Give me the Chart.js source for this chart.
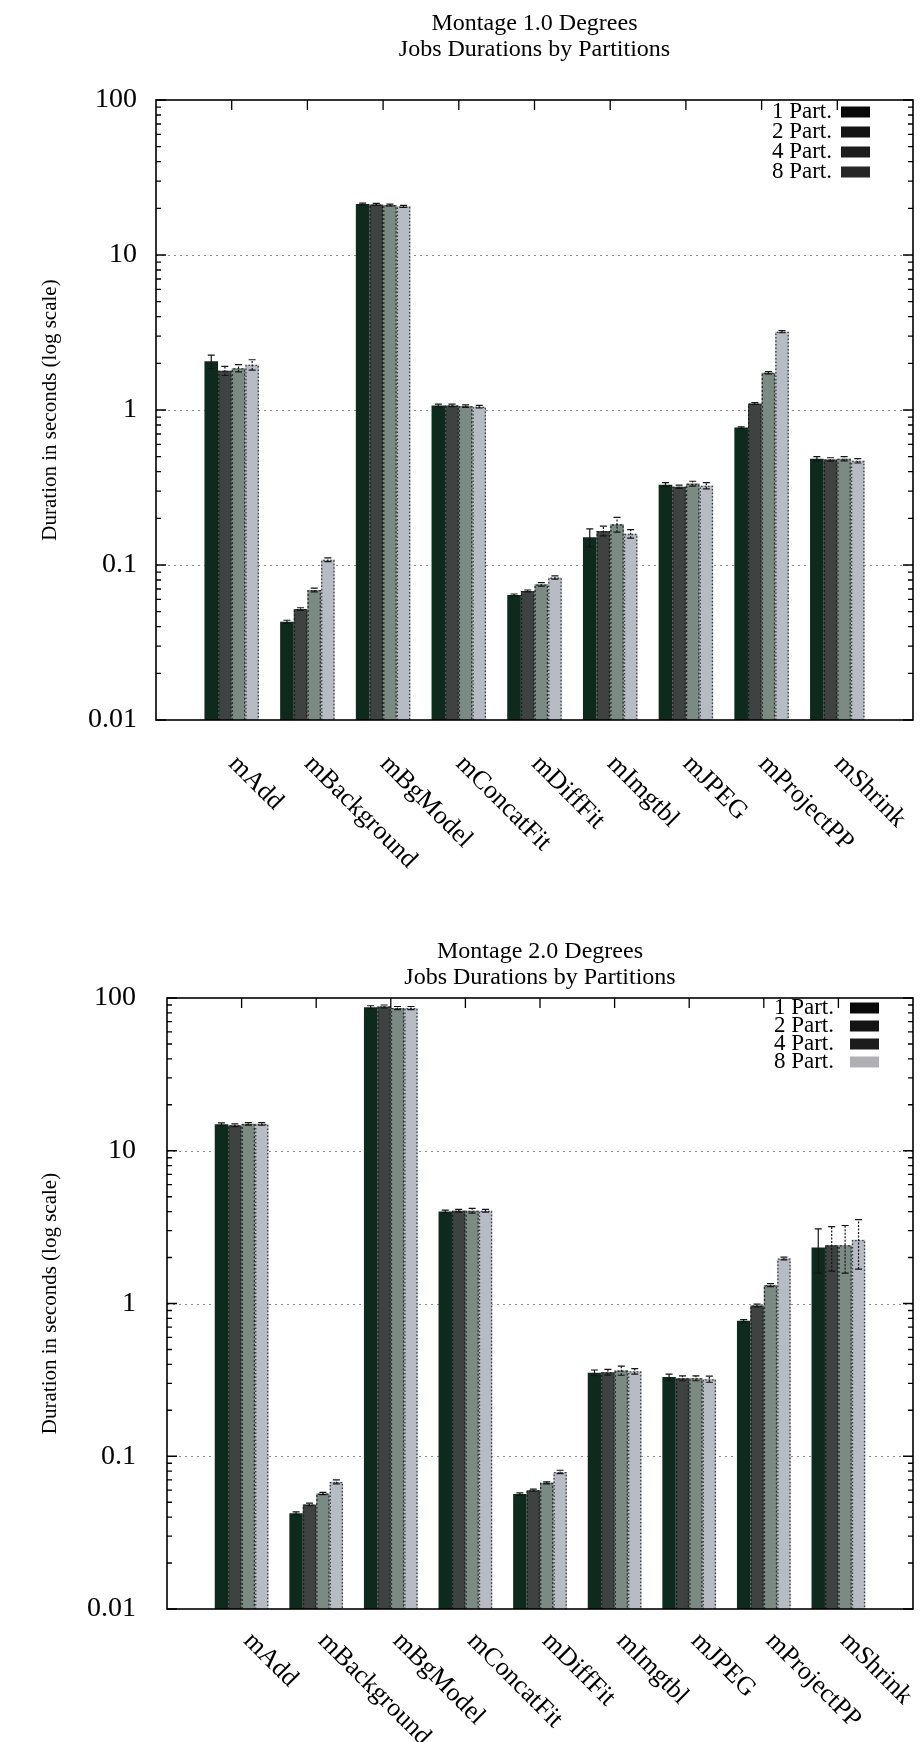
<!DOCTYPE html>
<html>
<head>
<meta charset="utf-8">
<script src="https://cdn.jsdelivr.net/npm/chart.js@4.4.1/dist/chart.umd.min.js"></script>
<style>
  html, body { margin: 0; padding: 0; background: #fff; }
  #wrap { position: relative; width: 920px; height: 1742px; background: #fff; }
  canvas { position: absolute; left: 0; }
</style>
</head>
<body>
<div id="wrap">
  <canvas id="deg1" width="920" height="871" style="top:0px"></canvas>
  <canvas id="deg2" width="920" height="871" style="top:871px"></canvas>
</div>
<script>
// Montage job types on the x axis
const categories = ['mAdd', 'mBackground', 'mBgModel', 'mConcatFit', 'mDiffFit', 'mImgtbl', 'mJPEG', 'mProjectPP', 'mShrink'];
const seriesNames = ['1 Part.', '2 Part.', '4 Part.', '8 Part.'];
const yTickValues = [0.01, 0.1, 1, 10, 100];
const yTickLabels = ['0.01', '0.1', '1', '10', '100'];
const chart1Title = ['Montage 1.0 Degrees', 'Jobs Durations by Partitions'];
const chart2Title = ['Montage 2.0 Degrees', 'Jobs Durations by Partitions'];
const yAxisTitle = 'Duration in seconds (log scale)';

// Montage 1.0 degrees: mean job duration (s) per partition count
const m1Part1 = [2.06, 0.043, 21.3, 1.07, 0.064, 0.151, 0.330, 0.77, 0.485];
const m1Part2 = [1.79, 0.052, 21.2, 1.07, 0.068, 0.166, 0.320, 1.10, 0.480];
const m1Part4 = [1.86, 0.069, 21.0, 1.06, 0.075, 0.183, 0.335, 1.74, 0.485];
const m1Part8 = [1.96, 0.108, 20.6, 1.05, 0.083, 0.159, 0.325, 3.20, 0.470];
// Montage 1.0 degrees: error bar half-widths
const m1Err1 = [0.20, 0.001, 0.3, 0.02, 0.001, 0.020, 0.010, 0.010, 0.015];
const m1Err2 = [0.12, 0.001, 0.3, 0.02, 0.001, 0.012, 0.008, 0.015, 0.012];
const m1Err4 = [0.10, 0.002, 0.3, 0.02, 0.002, 0.020, 0.012, 0.030, 0.015];
const m1Err8 = [0.15, 0.003, 0.3, 0.02, 0.002, 0.010, 0.015, 0.050, 0.015];

// Montage 2.0 degrees: mean job duration (s) per partition count
const m2Part1 = [14.9, 0.0423, 87, 4.00, 0.0565, 0.352, 0.330, 0.77, 2.33];
const m2Part2 = [14.7, 0.0484, 88, 4.05, 0.0600, 0.355, 0.324, 0.97, 2.41];
const m2Part4 = [15.0, 0.0570, 86, 4.05, 0.0670, 0.364, 0.324, 1.32, 2.41];
const m2Part8 = [15.0, 0.0680, 86, 4.05, 0.0790, 0.360, 0.320, 1.97, 2.61];
// Montage 2.0 degrees: error bar half-widths
const m2Err1 = [0.3, 0.001, 2, 0.08, 0.001, 0.015, 0.015, 0.015, 0.75];
const m2Err2 = [0.3, 0.001, 2, 0.08, 0.001, 0.015, 0.012, 0.020, 0.78];
const m2Err4 = [0.3, 0.001, 2, 0.15, 0.001, 0.025, 0.012, 0.030, 0.83];
const m2Err8 = [0.3, 0.002, 2, 0.08, 0.002, 0.015, 0.015, 0.040, 0.93];

// bar styling per partition count
const barFills = ['#0e2a1d', '#3e4240', '#7b8a82', '#b7bbc4'];
const barEdgeDash = [null, [2, 2], [2, 2], [1.5, 2]];
const barEdgeColors = ['#0e2a1d', '#1c1f1e', '#2a302c', '#3a3d45'];

const SERIF = "'Liberation Serif', 'Times New Roman', serif";

// the category axis runs from an empty slot before the first job to one after the last
function padEnds(arr) { return [null, ...arr, null]; }

const gnuplotFrame = {
  id: 'gnuplotFrame',
  beforeDatasetsDraw(chart, args, o) {
    const { ctx, chartArea: a, scales: { y } } = chart;
    ctx.save();
    ctx.strokeStyle = '#8c8c8c';
    ctx.lineWidth = 1;
    ctx.setLineDash([2, 4]);
    yTickValues.forEach(v => {
      if (v <= y.min || v >= y.max) return;
      const py = Math.round(y.getPixelForValue(v)) + 0.5;
      ctx.beginPath();
      ctx.moveTo(a.left, py);
      ctx.lineTo(a.right, py);
      ctx.stroke();
    });
    ctx.restore();
  },
  afterDatasetsDraw(chart, args, o) {
    const { ctx, chartArea: a, scales: { x, y } } = chart;

    // dotted bar outlines and error bars
    chart.data.datasets.forEach((ds, di) => {
      const meta = chart.getDatasetMeta(di);
      meta.data.forEach((bar, j) => {
        const v = ds.data[j];
        if (v == null) return;
        const half = bar.width / 2;
        if (ds.edgeDash) {
          ctx.save();
          ctx.strokeStyle = ds.edgeColor;
          ctx.lineWidth = 1.3;
          ctx.setLineDash(ds.edgeDash);
          ctx.beginPath();
          ctx.moveTo(bar.x - half + 0.7, bar.base);
          ctx.lineTo(bar.x - half + 0.7, bar.y + 0.7);
          ctx.lineTo(bar.x + half - 0.7, bar.y + 0.7);
          ctx.lineTo(bar.x + half - 0.7, bar.base);
          ctx.stroke();
          ctx.restore();
        }
        const e = ds.err[j];
        if (e) {
          const yHi = y.getPixelForValue(v + e);
          const yLo = y.getPixelForValue(Math.max(v - e, 0.0101));
          ctx.save();
          ctx.strokeStyle = '#151515';
          ctx.lineWidth = 1.2;
          if (ds.edgeDash) ctx.setLineDash([2, 1.5]);
          ctx.beginPath();
          ctx.moveTo(bar.x, yLo);
          ctx.lineTo(bar.x, yHi);
          ctx.stroke();
          ctx.setLineDash([]);
          ctx.beginPath();
          ctx.moveTo(bar.x - 3.5, yHi); ctx.lineTo(bar.x + 3.5, yHi);
          ctx.moveTo(bar.x - 3.5, yLo); ctx.lineTo(bar.x + 3.5, yLo);
          ctx.stroke();
          ctx.restore();
        }
      });
    });

    ctx.save();
    // border
    ctx.strokeStyle = '#000';
    ctx.lineWidth = 1.6;
    ctx.setLineDash([]);
    ctx.strokeRect(a.left, a.top, a.width, a.height);

    // log tics on both vertical borders
    ctx.lineWidth = 1.3;
    ctx.beginPath();
    for (let d = -2; d <= 1; d++) {
      for (let m = 1; m <= 9; m++) {
        const v = m * Math.pow(10, d);
        const py = y.getPixelForValue(v);
        const len = m === 1 ? 10 : 5;
        ctx.moveTo(a.left, py); ctx.lineTo(a.left + len, py);
        ctx.moveTo(a.right, py); ctx.lineTo(a.right - len, py);
      }
    }
    const pTop = y.getPixelForValue(100);
    ctx.moveTo(a.left, pTop); ctx.lineTo(a.left + 10, pTop);
    ctx.moveTo(a.right, pTop); ctx.lineTo(a.right - 10, pTop);
    // category tics along the top border
    categories.forEach((c, i) => {
      const px = x.getPixelForValue(i + 1);
      ctx.moveTo(px, a.top); ctx.lineTo(px, a.top + 10);
    });
    ctx.stroke();

    // rotated category labels
    ctx.fillStyle = '#000';
    ctx.font = o.labelSize + 'px ' + SERIF;
    ctx.textAlign = 'left';
    ctx.textBaseline = 'middle';
    categories.forEach((c, i) => {
      const px = x.getPixelForValue(i + 1);
      ctx.save();
      ctx.translate(px + o.labelDx, a.bottom + o.labelDy);
      ctx.rotate(Math.PI / 4);
      ctx.fillText(c, 0, 0);
      ctx.restore();
    });

    // key, top right inside the plot
    ctx.font = o.legendSize + 'px ' + SERIF;
    ctx.textAlign = 'right';
    chart.data.datasets.forEach((ds, i) => {
      const ty = a.top + o.legendTop + i * o.legendStep;
      ctx.fillStyle = '#000';
      ctx.fillText(ds.label, o.legendTextRight, ty);
      ctx.fillStyle = o.swatchColors[i];
      ctx.fillRect(o.swatchX, ty - 5.5, 29, 11);
    });

    // chart title
    ctx.font = o.titleSize + 'px ' + SERIF;
    ctx.textAlign = 'center';
    ctx.fillStyle = '#000';
    const cx = (a.left + a.right) / 2;
    o.titleLines.forEach((t, i) => ctx.fillText(t, cx, o.titleY[i]));

    // y axis title
    ctx.font = o.yTitleSize + 'px ' + SERIF;
    ctx.save();
    ctx.translate(o.yTitleX, (a.top + a.bottom) / 2);
    ctx.rotate(-Math.PI / 2);
    ctx.fillText(yAxisTitle, 0, 0);
    ctx.restore();
    ctx.restore();
  }
};

function buildChart(canvasId, series, errors, cfg) {
  const el = document.getElementById(canvasId);
  const H = el.height;
  return new Chart(el, {
    type: 'bar',
    data: {
      labels: ['', ...categories, ''],
      datasets: series.map((vals, i) => ({
        label: seriesNames[i],
        data: padEnds(vals),
        err: padEnds(errors[i]),
        backgroundColor: barFills[i],
        borderWidth: 0,
        edgeDash: barEdgeDash[i],
        edgeColor: barEdgeColors[i],
        categoryPercentage: 0.72,
        barPercentage: 1.0
      }))
    },
    options: {
      responsive: false,
      animation: false,
      devicePixelRatio: 1,
      layout: { padding: { top: cfg.top, right: 920 - cfg.right, bottom: 0, left: 0 } },
      plugins: {
        legend: { display: false },
        title: { display: false },
        tooltip: { enabled: false },
        gnuplotFrame: cfg
      },
      scales: {
        x: {
          type: 'category',
          offset: false,
          grid: { display: false, drawTicks: false },
          border: { display: false },
          ticks: { display: false },
          afterFit: s => { s.height = H - cfg.bottom; }
        },
        y: {
          type: 'logarithmic',
          min: 0.01,
          max: 100,
          grid: { display: false, drawTicks: false },
          border: { display: false },
          afterBuildTicks: s => { s.ticks = yTickValues.map(v => ({ value: v })); },
          ticks: {
            autoSkip: false,
            color: '#000',
            padding: cfg.tickPad,
            font: { family: SERIF, size: cfg.tickSize },
            callback: (v, idx) => yTickLabels[idx]
          },
          afterFit: s => { s.width = cfg.left; }
        }
      }
    },
    plugins: [gnuplotFrame]
  });
}

buildChart('deg1', [m1Part1, m1Part2, m1Part4, m1Part8], [m1Err1, m1Err2, m1Err4, m1Err8], {
  top: 100, bottom: 720, left: 156, right: 913,
  tickPad: 19, tickSize: 28,
  labelSize: 26, labelDx: 1, labelDy: 40,
  legendSize: 23, legendTop: 12, legendStep: 20, legendTextRight: 832, swatchX: 841,
  swatchColors: ['#0a0a0a', '#141414', '#1c1c1c', '#262626'],
  titleSize: 24, titleLines: chart1Title, titleY: [24, 50],
  yTitleSize: 21, yTitleX: 50
});

buildChart('deg2', [m2Part1, m2Part2, m2Part4, m2Part8], [m2Err1, m2Err2, m2Err4, m2Err8], {
  top: 127, bottom: 738, left: 167, right: 913,
  tickPad: 31, tickSize: 28,
  labelSize: 26, labelDx: 6, labelDy: 28,
  legendSize: 23, legendTop: 10, legendStep: 18, legendTextRight: 834, swatchX: 850,
  swatchColors: ['#0a0a0a', '#141414', '#1c1c1c', '#b0b0b4'],
  titleSize: 24, titleLines: chart2Title, titleY: [81, 107],
  yTitleSize: 21, yTitleX: 50
});
</script>
</body>
</html>
